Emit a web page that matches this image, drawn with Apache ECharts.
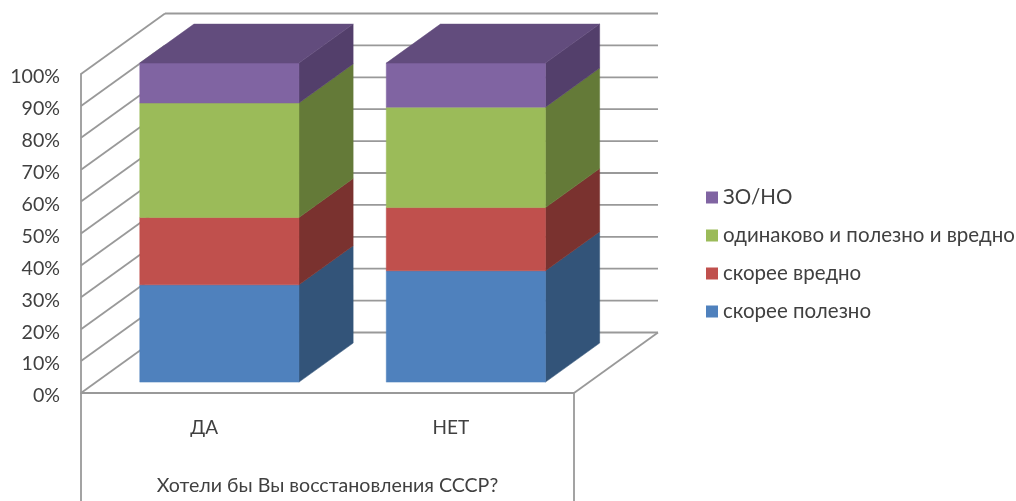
<!DOCTYPE html>
<html><head><meta charset="utf-8">
<script src="https://cdn.jsdelivr.net/npm/echarts@6/dist/echarts.min.js"></script>
<style>html,body{margin:0;padding:0;background:#fff}#c{width:1016px;height:501px}</style>
</head><body><div id="c"></div>
<script>
const categories = ['ДА', 'НЕТ'];
const yTicks = [0, 10, 20, 30, 40, 50, 60, 70, 80, 90, 100];
const axisTitle = 'Хотели бы Вы восстановления СССР?';
const seriesNames = ['скорее полезно', 'скорее вредно', 'одинаково и полезно и вредно', 'ЗО/НО'];
const polezno = [30.5, 34.9];
const vredno = [21.1, 19.8];
const odinakovo = [35.9, 31.5];
const zono = [12.5, 13.8];
const layers = [polezno, vredno, odinakovo, zono];
const frontColors = ['#4F81BD', '#C0504D', '#9BBB59', '#8064A2'];
const sideColors = ['#335479', '#7A322F', '#647A38', '#533F6B'];
const topColor = '#624C7D';

const FONT = 'Lato', TEXT = '#404040', LINE = '#999999', LW = 1.8, FS = 19.6;
const DX = 84, DY = -60.5, NEAR = 0.18, FAR = 0.825, BAR_W = 159.2;

function poly(points, fill) {
  return { type: 'polygon', shape: { points }, style: { fill, stroke: fill, lineWidth: 0.5 }, silent: true };
}
function line(a, b) {
  return { type: 'line', shape: { x1: a[0], y1: a[1], x2: b[0], y2: b[1] },
    style: { stroke: LINE, lineWidth: LW, fill: null }, silent: true };
}

function renderGrid(params, api) {
  const band = api.size([1, 0])[0];
  const v = api.value(0);
  const l = api.coord([0, v])[0] - band / 2;
  const r = api.coord([1, v])[0] + band / 2;
  const y = api.coord([0, v])[1];
  const a = [l, y], b = [l + DX, y + DY], c = [r + DX, y + DY];
  return { type: 'group', children: [line(a, b), line(b, c)] };
}
function renderFrame(params, api) {
  const band = api.size([1, 0])[0];
  const l = api.coord([0, 0])[0] - band / 2;
  const r = api.coord([1, 0])[0] + band / 2;
  const y = api.coord([0, 0])[1];
  const h = api.getHeight();
  return { type: 'group', children: [
    line([l, y], [l, h]),
    line([r, y], [r, h]),
    line([l, y], [r, y]),
    line([r, y], [r + DX, y + DY])
  ]};
}
function barRenderer(li) {
  return function (params, api) {
    const i = api.value(0);
    let base = 0;
    for (let k = 0; k < li; k++) base += layers[k][i];
    const top = base + layers[li][i];
    const cx = api.coord([i, 0])[0];
    const y0 = api.coord([i, base])[1] + NEAR * DY;
    const y1 = api.coord([i, top])[1] + NEAR * DY;
    const x0 = cx - BAR_W / 2 + NEAR * DX, x1 = x0 + BAR_W;
    const ox = (FAR - NEAR) * DX, oy = (FAR - NEAR) * DY;
    const children = [
      poly([[x1, y0], [x1 + ox, y0 + oy], [x1 + ox, y1 + oy], [x1, y1]], sideColors[li]),
      poly([[x0, y0], [x1, y0], [x1, y1], [x0, y1]], frontColors[li])
    ];
    if (li === layers.length - 1) {
      children.push(poly([[x0, y1], [x1, y1], [x1 + ox, y1 + oy], [x0 + ox, y1 + oy]], topColor));
    }
    return { type: 'group', children };
  };
}

const series = [
  { type: 'custom', name: 'grid', silent: true, z: 1, data: yTicks.map(t => [t]), renderItem: renderGrid },
  { type: 'custom', name: 'frame', silent: true, z: 1, data: [[0]], renderItem: renderFrame }
];
layers.forEach((vals, li) => series.push({
  type: 'custom', name: seriesNames[li], z: 3, silent: true,
  itemStyle: { color: frontColors[li] },
  data: categories.map((c, i) => [i, vals[i]]),
  renderItem: barRenderer(li)
}));

const chart = echarts.init(document.getElementById('c'), null, { renderer: 'canvas' });
chart.setOption({
  animation: false,
  backgroundColor: '#fff',
  textStyle: { fontFamily: FONT },
  grid: { left: 81, right: 442, top: 74, bottom: 108, containLabel: false, outerBoundsMode: 'none' },
  xAxis: {
    type: 'category', data: categories,
    name: axisTitle, nameLocation: 'middle', nameGap: 83,
    nameTextStyle: { fontFamily: FONT, fontSize: FS, color: TEXT },
    axisLine: { show: false }, axisTick: { show: false }, splitLine: { show: false },
    axisLabel: { fontFamily: FONT, fontSize: 19, color: TEXT, margin: 25 }
  },
  yAxis: {
    type: 'value', min: 0, max: 100, interval: 10,
    axisLine: { show: true, lineStyle: { color: LINE, width: LW } },
    axisTick: { show: false }, splitLine: { show: false },
    axisLabel: { fontFamily: FONT, fontSize: FS, color: TEXT, margin: 21, formatter: '{value}%', verticalAlign: 'top', lineHeight: 6 }
  },
  legend: {
    orient: 'vertical', left: 706, top: 186, padding: 0, itemWidth: 12, itemHeight: 12, itemGap: 15,
    selectedMode: false, icon: 'rect',
    data: seriesNames.slice().reverse(),
    textStyle: { fontFamily: FONT, fontSize: 20.5, color: TEXT, lineHeight: 23 }
  },
  series
});
</script></body></html>
